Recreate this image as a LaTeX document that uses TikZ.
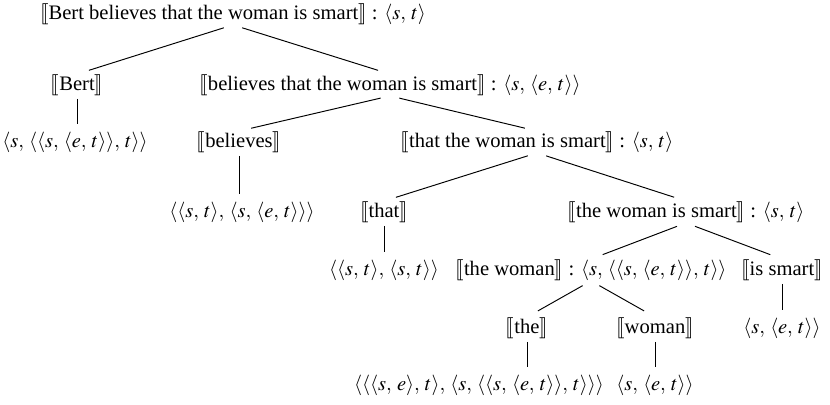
\documentclass[tikz,border=0pt]{standalone}
\usepackage{mathptmx}
\usepackage{stmaryrd}
\usepackage[no-math]{fontspec}
\setmainfont{Liberation Serif}
\usepackage{tikz}
\usetikzlibrary{positioning}
\newcommand{\den}[1]{$\llbracket$#1$\rrbracket$}
\newcommand{\ty}[1]{$\thinmuskip=4.5mu\langle #1\rangle$}

\begin{document}
\begin{tikzpicture}[x=0.52pt, y=-0.52pt,
  lbl/.style={inner sep=0pt, font=\fontsize{10.7}{13}\selectfont},
  branch/.style={line width=0.5pt, shorten <=5pt, shorten >=6.5pt},
  leaf/.style={line width=0.5pt, shorten <=1.5pt, shorten >=4pt}
]
  \useasboundingbox (0,0) rectangle (830,405);
  % phrase nodes
  \node[lbl] (root) at (233,14) {\den{Bert believes that the woman is smart} : \ty{s, t}};
  \node[lbl] (bert) at (77,85) {\den{Bert}};
  \node[lbl] (bel) at (390,85) {\den{believes that the woman is smart} : \ty{s, \langle e, t\rangle}};
  \node[lbl] (bertT) at (75,142) {\ty{s, \langle\langle s, \langle e, t\rangle\rangle, t\rangle}};
  \node[lbl] (believes) at (239,142) {\den{believes}};
  \node[lbl] (thatS) at (537,142) {\den{that the woman is smart} : \ty{s, t}};
  \node[lbl] (believesT) at (242,212) {\ty{\langle s, t\rangle, \langle s, \langle e, t\rangle\rangle}};
  \node[lbl] (that) at (384,212) {\den{that}};
  \node[lbl] (twis) at (686,212) {\den{the woman is smart} : \ty{s, t}};
  \node[lbl] (thatT) at (384,270) {\ty{\langle s, t\rangle, \langle s, t\rangle}};
  \node[lbl] (thewoman) at (591,270) {\den{the woman} : \ty{s, \langle\langle s, \langle e, t\rangle\rangle, t\rangle}};
  \node[lbl] (issmart) at (782,270) {\den{is smart}};
  \node[lbl] (the) at (527,328) {\den{the}};
  \node[lbl] (woman) at (655,328) {\den{woman}};
  \node[lbl] (issmartT) at (782,328) {\ty{s, \langle e, t\rangle}};
  \node[lbl] (theT) at (479,385) {\ty{\langle\langle s, e\rangle, t\rangle, \langle s, \langle\langle s, \langle e, t\rangle\rangle, t\rangle\rangle}};
  \node[lbl] (womanT) at (655,385) {\ty{s, \langle e, t\rangle}};
  % branches
  \draw[branch] (root.south) -- (bert.north);
  \draw[branch] (root.south) -- (bel.north);
  \draw[branch] (bel.south) -- (believes.north);
  \draw[branch] (bel.south) -- (thatS.north);
  \draw[branch] (thatS.south) -- (that.north);
  \draw[branch] (thatS.south) -- (twis.north);
  \draw[branch] (twis.south) -- (thewoman.north);
  \draw[branch] (twis.south) -- (issmart.north);
  \draw[branch] (thewoman.south) -- (the.north);
  \draw[branch] (thewoman.south) -- (woman.north);
  % lexical types
  \draw[leaf] (bert) -- (bert |- bertT.north);
  \draw[leaf] (believes) -- (believes |- believesT.north);
  \draw[leaf] (that) -- (that |- thatT.north);
  \draw[leaf] (issmart) -- (issmart |- issmartT.north);
  \draw[leaf] (the) -- (the |- theT.north);
  \draw[leaf] (woman) -- (woman |- womanT.north);
\end{tikzpicture}
\end{document}
